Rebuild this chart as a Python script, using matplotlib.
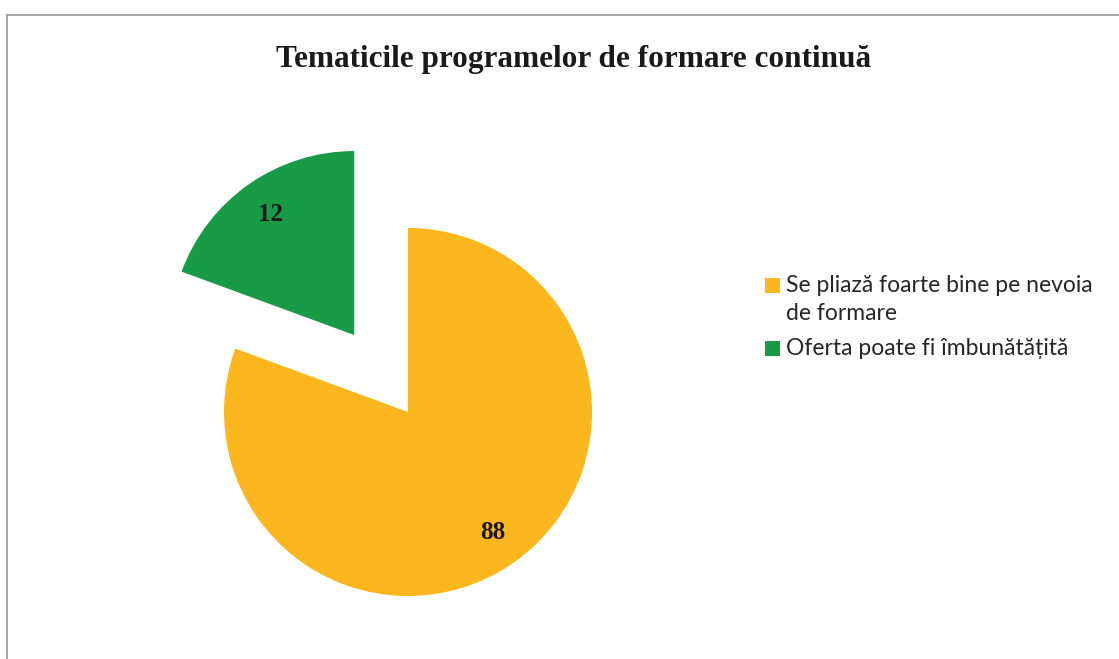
import matplotlib
matplotlib.use('Agg')
import matplotlib.pyplot as plt
from matplotlib.lines import Line2D
from matplotlib.patches import Rectangle

# data
title = "Tematicile programelor de formare continuă"
categories = ["Se pliază foarte bine pe nevoia\nde formare", "Oferta poate fi îmbunătățită"]
value_labels = ["88", "12"]
# wedge sizes as they appear in the picture (the green wedge is ~70 deg wide)
slice_share = [80.6, 19.4]
colors = ["#FDB71E", "#189B47"]

W, H = 1119, 659
fig = plt.figure(figsize=(W / 100, H / 100), dpi=100)


def fx(px):
    return px / W


def fy(py):
    return 1 - py / H


# scanned frame (top + left edges)
fig.add_artist(Line2D([fx(7), 1], [fy(15), fy(15)], color='#9a9a9a', lw=1.2))
fig.add_artist(Line2D([fx(7), fx(7)], [fy(15), 0], color='#9a9a9a', lw=1.2))

fig.text(fx(574), fy(67), title, ha='center', va='baseline',
         fontfamily='Liberation Serif', fontweight='bold', fontsize=22.5, color='#1a1a1a')

# pie, radius 1 == 184 px, centre of the main wedge at (408, 412)
R = 184
cx, cy = 408, 412
ax = fig.add_axes([fx(100), fy(620), fx(700) - fx(100), fy(100) - fy(620)])
wedges, texts = ax.pie(slice_share, labels=value_labels, colors=colors,
                       startangle=90, counterclock=False, explode=[0, 0.51],
                       labeldistance=0.8,
                       textprops=dict(fontfamily='Liberation Serif', fontweight='bold',
                                      fontsize=18, color='#1a1a1a'))
for t in texts:
    t.set_ha('center')
    t.set_va('center')
ax.set_xlim((100 - cx) / R, (700 - cx) / R)
ax.set_ylim((cy - 620) / R, (cy - 100) / R)

# legend drawn by hand so the square sits on the first line of a wrapped label
line_h = 28
base = 292  # baseline of the first legend line (px from top)
for lab, col in zip(categories, colors):
    fig.add_artist(Rectangle((fx(765), fy(base + 1)), fx(15), 15 / H,
                             transform=fig.transFigure, color=col, lw=0))
    for line in lab.split('\n'):
        fig.text(fx(786), fy(base), line, ha='left', va='baseline',
                 fontfamily=['Lato', 'DejaVu Sans'], fontsize=16.5, color='#262626')
        base += line_h
    base += 7

fig.savefig('out.png', dpi=100)
